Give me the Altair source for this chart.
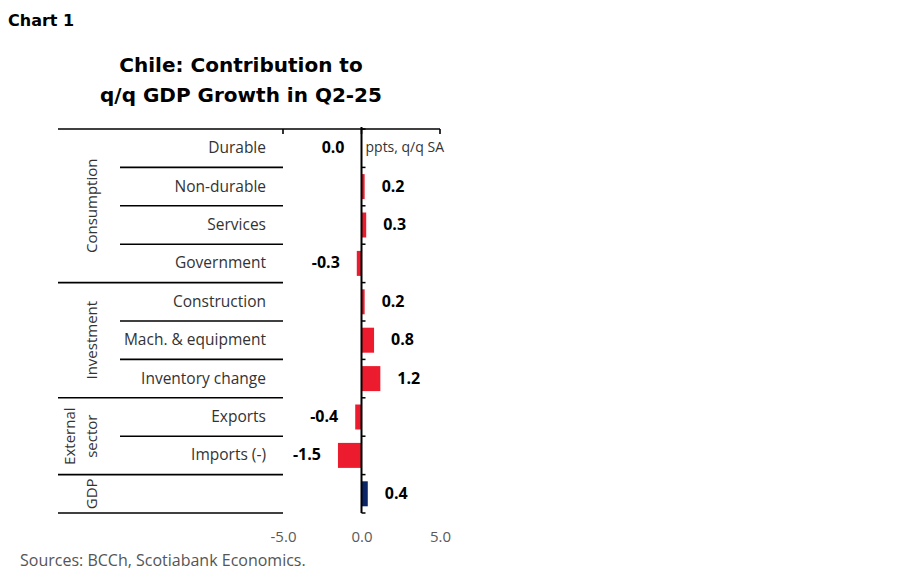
import altair as alt
import pandas as pd

FONT = "Open Sans"
TITLE_FONT = "DejaVu Sans"

CHART_LABEL = "Chart 1"
TITLE_LINES = ["Chile: Contribution to", "q/q GDP Growth in Q2-25"]
UNIT_LABEL = "ppts, q/q SA"
SOURCE = "Sources: BCCh, Scotiabank Economics."

CATEGORIES = ["Durable", "Non-durable", "Services", "Government", "Construction",
              "Mach. & equipment", "Inventory change", "Exports", "Imports (-)", ""]
VALUES = [0.0, 0.2, 0.3, -0.3, 0.2, 0.8, 1.2, -0.4, -1.5, 0.4]
KINDS = ["component"] * 9 + ["total"]
GROUPS = ["Consumption", "Investment", "External\nsector", "GDP"]
GROUP_SIZES = [4, 3, 2, 1]
X_TICKS = [-5, 0, 5]

RED = "#EC1C2E"
NAVY = "#0B2566"

W, H = 157, 384

rows = pd.DataFrame({"category": CATEGORIES, "value": VALUES, "kind": KINDS})
rows["row"] = range(len(rows))
rows["center"] = rows["row"] + 0.5

starts, s = [], 0
for g in GROUP_SIZES:
    starts.append(s)
    s += g
groups = pd.DataFrame({"name": GROUPS, "start": starts, "size": GROUP_SIZES})
groups["gcenter"] = groups["start"] + groups["size"] / 2

long_b = sorted(set(starts + [len(rows)]))
inner_b = [b for b in range(1, len(rows)) if b not in long_b]
long_df = pd.DataFrame({"pos": long_b})
inner_df = pd.DataFrame({"pos": inner_b})
all_b = pd.DataFrame({"pos": list(range(0, len(rows) + 1))})
ticks_df = pd.DataFrame({"x": X_TICKS})

xscale = alt.Scale(domain=[X_TICKS[0], X_TICKS[-1]], nice=False, zero=False, padding=0)
yscale = alt.Scale(domain=[0, len(rows)], reverse=True, nice=False, zero=False, padding=0)

xaxis = alt.Axis(values=X_TICKS, format=".1f", labelExpr="replace(datum.label, '\u2212', '-')",
                 domain=False, ticks=False, grid=False, title=None, labelFlush=False,
                 labelFont=FONT, labelFontSize=15, labelColor="#5a5a5a", labelPadding=16)


def XQ(field):
    return alt.X(field, type="quantitative", scale=xscale, axis=xaxis)


def Y(field):
    return alt.Y(field, type="quantitative", scale=yscale, axis=None)


bars = alt.Chart(rows).mark_bar(size=25).encode(
    x=XQ("value"),
    x2=alt.datum(0),
    y=Y("center"),
    color=alt.Color("kind:N", scale=alt.Scale(domain=["component", "total"], range=[RED, NAVY]), legend=None),
)

lab_expr = "replace(format(datum.value, '.1f'), '\u2212', '-')"
pos_labels = alt.Chart(rows).transform_filter("datum.value > 0").transform_calculate(lab=lab_expr).mark_text(
    align="left", baseline="middle", dx=17, font=FONT, fontSize=16, fontWeight="bold", color="#000000"
).encode(x=XQ("value"), y=Y("center"), text="lab:N")

neg_labels = alt.Chart(rows).transform_filter("datum.value <= 0").transform_calculate(lab=lab_expr).mark_text(
    align="right", baseline="middle", dx=-17, font=FONT, fontSize=16, fontWeight="bold", color="#000000"
).encode(x=XQ("value"), y=Y("center"), text="lab:N")

cat_labels = alt.Chart(rows).mark_text(
    align="right", baseline="middle", font=FONT, fontSize=15.5, color="#333333"
).encode(x=alt.value(-17), y=Y("center"), text="category:N")

group_single = alt.Chart(groups).transform_filter("indexof(datum.name, '\\n') < 0").mark_text(
    angle=270, align="center", baseline="bottom", font=FONT, fontSize=15, color="#333333"
).encode(x=alt.value(-183), y=Y("gcenter"), text="name:N")

group_multi = alt.Chart(groups).transform_filter("indexof(datum.name, '\\n') >= 0").mark_text(
    angle=270, align="center", baseline="bottom", lineBreak="\n", lineHeight=22, dy=-22,
    font=FONT, fontSize=15, color="#333333"
).encode(x=alt.value(-183), y=Y("gcenter"), text="name:N")

long_sep = alt.Chart(long_df).mark_rule(color="#000000", strokeWidth=1.6).encode(
    x=alt.value(-225), x2=alt.value(0), y=Y("pos"))
inner_sep = alt.Chart(inner_df).mark_rule(color="#000000", strokeWidth=1.6).encode(
    x=alt.value(-163), x2=alt.value(0), y=Y("pos"))

top_line = alt.Chart(ticks_df).mark_rule(color="#000000", strokeWidth=1.6).encode(
    x=alt.X("min(x):Q", scale=xscale, axis=xaxis), x2="max(x):Q", y=alt.value(0))
top_ticks = alt.Chart(ticks_df).mark_rule(color="#000000", strokeWidth=1.6).encode(
    x=XQ("x"), y=alt.value(0), y2=alt.value(5))

zero_line = alt.Chart(ticks_df).transform_filter("datum.x == 0").mark_rule(color="#000000", strokeWidth=2).encode(
    x=XQ("x"), y=alt.value(-2), y2=alt.value(H))
zero_ticks = alt.Chart(all_b).mark_rule(color="#000000", strokeWidth=1.5, x2Offset=4).encode(
    x=alt.X(datum=0, scale=xscale, axis=xaxis), x2=alt.datum(0), y=Y("pos"))

unit = alt.Chart(pd.DataFrame({"t": [UNIT_LABEL]})).mark_text(
    align="left", baseline="middle", dx=4, font=FONT, fontSize=14, color="#333333"
).encode(x=alt.X(datum=0, scale=xscale, axis=xaxis), y=alt.Y(datum=0.5, scale=yscale, axis=None), text="t:N")

chart_lab = alt.Chart(pd.DataFrame({"t": [CHART_LABEL]})).mark_text(
    align="left", baseline="alphabetic", font=TITLE_FONT, fontSize=16, fontWeight="bold", color="#000000"
).encode(x=alt.value(-275), y=alt.value(-103), text="t:N")

title1 = alt.Chart(pd.DataFrame({"t": [TITLE_LINES[0]]})).mark_text(
    align="center", baseline="alphabetic", font=TITLE_FONT, fontSize=20, fontWeight="bold", color="#000000"
).encode(x=alt.value(-42), y=alt.value(-57), text="t:N")
title2 = alt.Chart(pd.DataFrame({"t": [TITLE_LINES[1]]})).mark_text(
    align="center", baseline="alphabetic", font=TITLE_FONT, fontSize=20, fontWeight="bold", color="#000000"
).encode(x=alt.value(-42), y=alt.value(-27), text="t:N")

source = alt.Chart(pd.DataFrame({"t": [SOURCE]})).mark_text(
    align="left", baseline="alphabetic", font=FONT, fontSize=16, color="#555555"
).encode(x=alt.value(-263), y=alt.value(437), text="t:N")

chart = alt.layer(
    long_sep, inner_sep, top_line, top_ticks, bars, zero_line, zero_ticks,
    pos_labels, neg_labels, cat_labels, group_single, group_multi, unit,
    chart_lab, title1, title2, source,
).properties(
    width=W, height=H,
    background="white",
    autosize=alt.AutoSizeParams(type="none"),
    padding={"left": 275, "top": 121, "right": 440, "bottom": 58},
).configure_view(strokeWidth=0, stroke="transparent").configure_axis(grid=False)

chart.save("out.html", embed_options={"renderer": "svg", "actions": False})
